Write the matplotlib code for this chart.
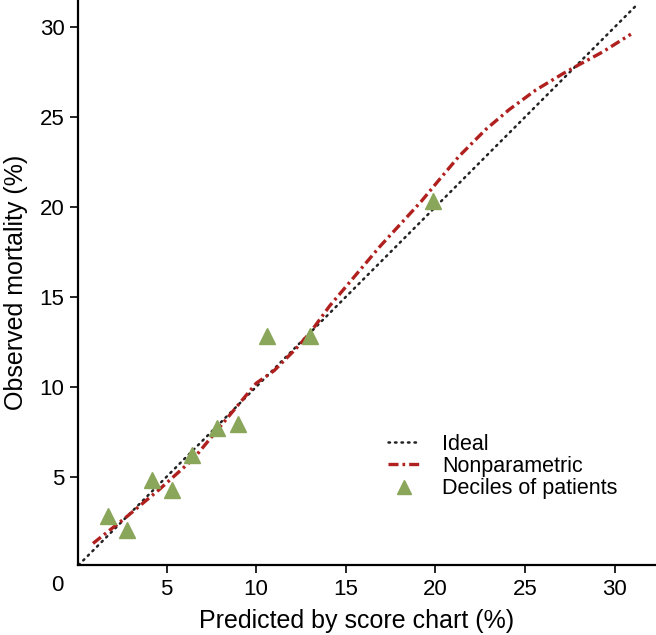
import matplotlib
matplotlib.use("Agg")
import matplotlib.pyplot as plt
from matplotlib.lines import Line2D

plt.rcParams['font.family'] = ['Liberation Sans', 'DejaVu Sans']

# ideal diagonal
ideal_x = [0.1, 31.2]
ideal_y = [0.1, 31.2]

# nonparametric smoother
np_x = [0.9, 2.8, 4.6, 6.5, 8.0, 10.0, 11.0, 12.2, 13.0, 14.1, 16.9, 19.2, 20.2,
        21.3, 22.8, 24.1, 25.6, 27.1, 28.0, 29.3, 30.9]
np_y = [1.3, 2.8, 4.3, 6.0, 7.8, 10.2, 10.9, 12.1, 13.0, 14.5, 17.8, 20.3, 21.5,
        22.8, 24.3, 25.4, 26.5, 27.4, 27.9, 28.6, 29.6]

# deciles of patients
dec_x = [1.75, 2.8, 4.2, 5.3, 6.4, 7.8, 9.0, 10.6, 13.0, 19.85]
dec_y = [2.85, 2.05, 4.85, 4.25, 6.2, 7.7, 7.95, 12.8, 12.85, 20.35]

xticks = [5, 10, 15, 20, 25, 30]
yticks = [5, 10, 15, 20, 25, 30]

red = '#B0201E'
green = '#8AA65A'
ideal_style = dict(color='#222222', linestyle=(0, (0.6, 2.0)), linewidth=1.8,
                   dash_capstyle='round')
np_style = dict(color=red, linestyle=(0, (3, 1.2, 0.8, 1.2)), linewidth=2.4)

fig = plt.figure(figsize=(6.56, 6.35), dpi=100)
ax = fig.add_axes([78.3 / 656, 70 / 635, 1 - 78.3 / 656, 1 - 70 / 635])

ax.plot(ideal_x, ideal_y, **ideal_style)
ax.plot(np_x, np_y, **np_style)
ax.plot(dec_x, dec_y, linestyle='none', marker='^', markersize=11, color=green)

ax.set_xlim(0.08, 32.3)
ax.set_ylim(0.1, 31.5)
ax.set_xticks(xticks)
ax.set_yticks(yticks)
ax.spines['top'].set_visible(False)
ax.spines['right'].set_visible(False)
ax.spines['left'].set_linewidth(1.6)
ax.spines['bottom'].set_linewidth(1.6)
ax.tick_params(axis='both', direction='out', length=6, width=1.2, labelsize=16, pad=4)

# shared origin label
ax.text(-1.1, -1.05, "0", fontsize=16, ha='center', va='center', clip_on=False)

ax.set_xlabel("Predicted by score chart (%)", fontsize=18)
ax.set_ylabel("Observed mortality (%)", fontsize=18, labelpad=8)
ax.xaxis.set_label_coords(0.482, -0.077)

handles = [
    Line2D([], [], **ideal_style),
    Line2D([], [], **np_style),
    Line2D([], [], linestyle='none', marker='^', markersize=10, color=green),
]
ax.legend(handles, ["Ideal", "Nonparametric", "Deciles of patients"], loc='upper left',
          bbox_to_anchor=(0.536, 0.232), frameon=False, fontsize=15.5, handlelength=1.5,
          handletextpad=1.0, labelspacing=0.05, borderaxespad=0, borderpad=0)

fig.savefig("out.png", dpi=100)
